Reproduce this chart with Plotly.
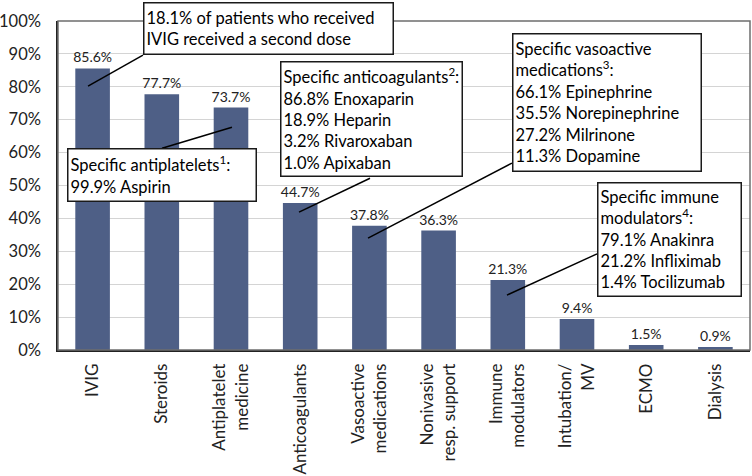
import plotly.graph_objects as go

categories = ["IVIG", "Steroids", "Antiplatelet<br>medicine", "Anticoagulants",
              "Vasoactive<br>medications", "Nonivasive<br>resp. support",
              "Immune<br>modulators", "Intubation/<br>MV", "ECMO", "Dialysis"]
values = [85.6, 77.7, 73.7, 44.7, 37.8, 36.3, 21.3, 9.4, 1.5, 0.9]
value_labels = ["85.6%", "77.7%", "73.7%", "44.7%", "37.8%", "36.3%", "21.3%", "9.4%", "1.5%", "0.9%"]
y_ticks = [0, 10, 20, 30, 40, 50, 60, 70, 80, 90, 100]
y_tick_labels = ["0%", "10%", "20%", "30%", "40%", "50%", "60%", "70%", "80%", "90%", "100%"]

callout_texts = [
    "18.1% of patients who received<br>IVIG received a second dose",
    "Specific antiplatelets<sup>1</sup>:<br>99.9% Aspirin",
    "Specific anticoagulants<sup>2</sup>:<br>86.8% Enoxaparin<br>18.9% Heparin<br>3.2% Rivaroxaban<br>1.0% Apixaban",
    "Specific vasoactive<br>medications<sup>3</sup>:<br>66.1% Epinephrine<br>35.5% Norepinephrine<br>27.2% Milrinone<br>11.3% Dopamine",
    "Specific immune<br>modulators<sup>4</sup>:<br>79.1% Anakinra<br>21.2% Infliximab<br>1.4% Tocilizumab",
]
# box layout (paper coords of top-left corner, size in px)
callout_pos = [(0.1228, 1.0568), (0.0130, 0.6134), (0.3208, 0.8776), (0.6561, 0.9627), (0.7789, 0.5102)]
callout_size = [(251, 53), (190, 54), (183, 116), (190, 139), (145, 115)]
# leader lines: (x0, y0) on bar -> (x1, y1) on box, in data coords
leaders = [(-0.066, 80.2, 0.728, 89.6), (2.014, 67.7, 1.003, 61.3), (2.983, 41.9, 4.009, 52.2),
           (3.98, 34.0, 6.06, 56.8), (5.988, 16.7, 7.289, 29.2)]

FONT = "Lato"
fig = go.Figure()
fig.add_trace(go.Bar(
    x=list(range(len(categories))), y=values, text=value_labels, textposition="outside",
    constraintext="none",
    textfont=dict(family=FONT, size=14, color="#222"), marker=dict(color="#4E5F86", line=dict(width=0)),
    cliponaxis=False, hoverinfo="skip"))

shapes = [dict(type="rect", xref="paper", yref="paper", x0=0, y0=0, x1=1, y1=1,
               line=dict(color="#6e6e6e", width=1.5), layer="above")]
for (x0, y0, x1, y1) in leaders:
    shapes.append(dict(type="line", xref="x", yref="y", x0=x0, y0=y0, x1=x1, y1=y1,
                       line=dict(color="black", width=1.5), layer="above"))

annotations = []
bw, pad = 1.5, 2
for txt, (px, py), (w, h) in zip(callout_texts, callout_pos, callout_size):
    annotations.append(dict(
        text=txt, xref="paper", yref="paper", x=px, y=py, xanchor="left", yanchor="top",
        showarrow=False, align="left", valign="middle",
        width=w - 2 * (bw + pad), height=h - 2 * (bw + pad),
        bgcolor="white", bordercolor="#1a1a1a", borderwidth=bw, borderpad=pad,
        font=dict(family=FONT, size=16.5, color="black")))

fig.update_layout(
    width=752, height=476, margin=dict(l=58, r=2, t=21, b=126),
    paper_bgcolor="white", plot_bgcolor="white", showlegend=False, bargap=0.5,
    shapes=shapes, annotations=annotations,
    font=dict(family=FONT, color="#222"),
    xaxis=dict(tickmode="array", tickvals=list(range(len(categories))), ticktext=categories,
               tickangle=-90, range=[-0.5, len(categories) - 0.5], showgrid=False,
               showline=True, linecolor="#222", linewidth=1.5, ticks="", automargin=False,
               tickfont=dict(family=FONT, size=17, color="#222"), ticklabelstandoff=5),
    yaxis=dict(range=[0, 100], tickmode="array", tickvals=y_ticks, ticktext=y_tick_labels,
               showgrid=True, gridcolor="#d4d4d4", gridwidth=1, zeroline=False, automargin=False,
               showline=True, linecolor="#222", linewidth=1.5, ticks="",
               tickfont=dict(family=FONT, size=16.5, color="#222"), ticklabelstandoff=12),
)

fig.write_html("out.html", post_script="document.body.style.margin='0';",
               config={"displayModeBar": False})
